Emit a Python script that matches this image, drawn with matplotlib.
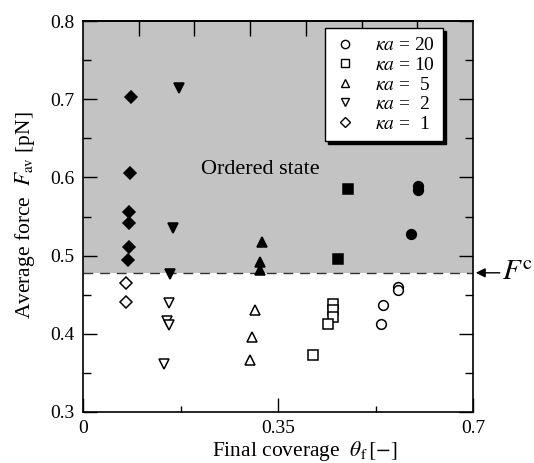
import matplotlib
matplotlib.use("Agg")
import matplotlib.pyplot as plt
from matplotlib.lines import Line2D

plt.rcParams['font.family'] = ['Liberation Serif', 'DejaVu Serif']
plt.rcParams['mathtext.fontset'] = 'stix'

# ---- data ----
Fc = 0.478
labels = [r'$\kappa a$ = 20', r'$\kappa a$ = 10', r'$\kappa a$ =  5', r'$\kappa a$ =  2', r'$\kappa a$ =  1']
markers = ['o', 's', '^', 'v', 'D']

# kappa a = 20
x20_open = [0.566, 0.566, 0.539, 0.535]
y20_open = [0.460, 0.456, 0.437, 0.413]
x20_fill = [0.602, 0.602, 0.588]
y20_fill = [0.589, 0.584, 0.527]
# kappa a = 10
x10_open = [0.448, 0.448, 0.448, 0.440, 0.413]
y10_open = [0.438, 0.430, 0.421, 0.413, 0.373]
x10_fill = [0.475, 0.457]
y10_fill = [0.585, 0.496]
# kappa a = 5
x5_open = [0.309, 0.303, 0.300]
y5_open = [0.430, 0.396, 0.367]
x5_fill = [0.322, 0.318, 0.318]
y5_fill = [0.517, 0.492, 0.481]
# kappa a = 2
x2_open = [0.155, 0.150, 0.154, 0.145]
y2_open = [0.440, 0.416, 0.411, 0.361]
x2_fill = [0.173, 0.161, 0.156]
y2_fill = [0.714, 0.535, 0.476]
# kappa a = 1
x1_open = [0.077, 0.077]
y1_open = [0.465, 0.441]
x1_fill = [0.087, 0.084, 0.083, 0.082, 0.082, 0.081]
y1_fill = [0.703, 0.605, 0.556, 0.542, 0.511, 0.494]

open_sets = [(x20_open, y20_open), (x10_open, y10_open), (x5_open, y5_open),
             (x2_open, y2_open), (x1_open, y1_open)]
fill_sets = [(x20_fill, y20_fill), (x10_fill, y10_fill), (x5_fill, y5_fill),
             (x2_fill, y2_fill), (x1_fill, y1_fill)]
msizes = [7, 7, 7, 7.5, 6.3]

xticks = [0, 0.35, 0.7]
xticklabels = ['0', '0.35', '0.7']
yticks = [0.3, 0.4, 0.5, 0.6, 0.7, 0.8]
yticklabels = ['0.3', '0.4', '0.5', '0.6', '0.7', '0.8']

# ---- figure ----
fig = plt.figure(figsize=(5.34, 4.63), dpi=100)
ax = fig.add_axes([83/534, 1 - 412/463, 390/534, 391/463])
ax.set_xlim(0, 0.7)
ax.set_ylim(0.3, 0.8)

ax.axhspan(Fc, 0.8, color='#c3c3c3', zorder=0, lw=0)
ax.axhline(Fc, color='#333333', lw=1.0, dashes=(7, 5), zorder=1)

for (xo, yo), (xf, yf), m, ms in zip(open_sets, fill_sets, markers, msizes):
    ax.plot(xo, yo, ls='none', marker=m, ms=ms, mfc='white', mec='black', mew=1.1, zorder=3)
    ax.plot(xf, yf, ls='none', marker=m, ms=ms, mfc='black', mec='black', mew=1.1, zorder=3)

ax.text(0.212, 0.6095, 'Ordered state', fontsize=16, va='center', ha='left')

# ticks
ax.set_xticks(xticks)
ax.set_xticklabels(xticklabels)
ax.set_xticks([0.175, 0.525], minor=True)
ax.set_yticks(yticks)
ax.set_yticklabels(yticklabels)
ax.set_yticks([0.35, 0.45, 0.55, 0.65, 0.75], minor=True)
ax.tick_params(which='both', direction='in', labelsize=14, width=1.0)
ax.tick_params(axis='x', which='major', length=10, pad=6)
ax.tick_params(axis='x', which='minor', length=4)
ax.tick_params(axis='y', which='major', length=10, pad=6, right=True)
ax.tick_params(axis='y', which='minor', length=6, right=True)

sec = ax.secondary_xaxis('top')
sec.set_xticks([0.1, 0.2, 0.3, 0.4, 0.5, 0.6])
sec.set_xticklabels([])
sec.tick_params(direction='in', length=11, width=1.0)
sec.spines['top'].set_linewidth(1.2)

for s in ax.spines.values():
    s.set_linewidth(1.2)

ax.set_xlabel(r'Final coverage  $\theta_{\mathrm{f}}\,[-]$', fontsize=15.5, va='center')
ax.xaxis.set_label_coords(0.569, -0.100)
ax.set_ylabel(r'Average force  $F_{\mathrm{av}}$ [pN]', fontsize=15.5, va='center')
ax.yaxis.set_label_coords(-0.149, 0.504)

# F^c arrow
ax.annotate('', xy=(0.7, Fc), xytext=(0.753, Fc), xycoords='data',
            arrowprops=dict(arrowstyle='-|>', color='black', lw=1.0, mutation_scale=14),
            annotation_clip=False)
ax.text(0.752, Fc, r'$F^{\mathrm{c}}$', fontsize=21, va='center', ha='left', clip_on=False)

# legend
handles = [Line2D([], [], ls='none', marker=m, ms=ms * 0.85, mfc='white', mec='black', mew=1.0)
           for m, ms in zip(markers, msizes)]
leg = ax.legend(handles, labels, loc='upper left', bbox_to_anchor=(0.6205, 0.982),
                fontsize=14, frameon=True, fancybox=False, shadow={'color': 'black', 'alpha': 1.0},
                edgecolor='black', framealpha=1.0, labelspacing=0.1, handletextpad=0.9,
                borderpad=0.45, handlelength=1.2, borderaxespad=0)
leg.get_frame().set_linewidth(1.0)
leg.set_zorder(5)

fig.savefig('out.png', dpi=100)
